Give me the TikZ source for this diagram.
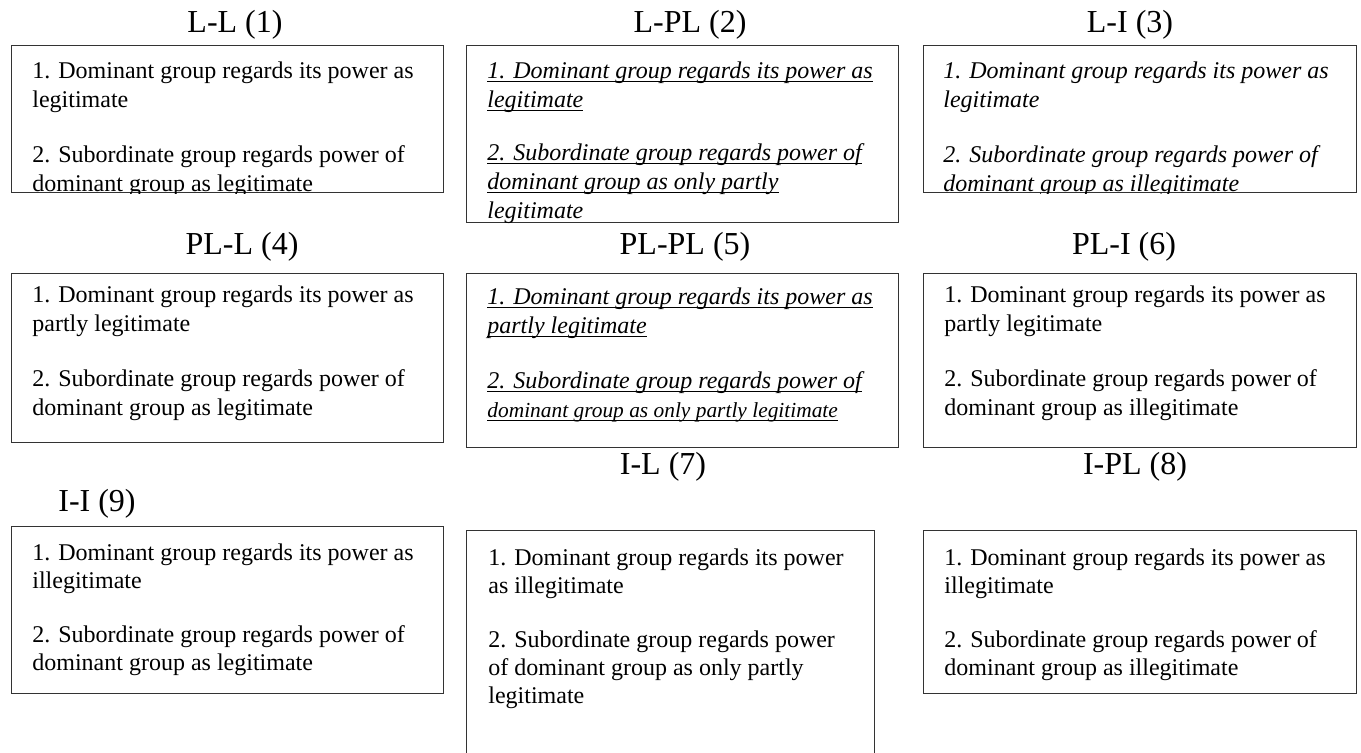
\documentclass[tikz,border=0pt]{standalone}
\usepackage{fontspec}
\setmainfont{Liberation Serif}
\usepackage{tikz}
\usetikzlibrary{positioning}
\newcommand{\ulbar}[1]{\leavevmode\setbox0=\hbox{#1}\rlap{\rule[-2.2pt]{\wd0}{0.8pt}}\box0}
\begin{document}
\begin{tikzpicture}[x=0.5pt,y=-0.5pt,
 card/.style={draw=black!80,line width=0.6pt,anchor=north west,inner sep=0pt,minimum width=216pt},
 txt/.style={inner sep=0pt,align=left,font=\fontsize{12}{14.5}\selectfont},
 txtit/.style={txt,font=\fontsize{12}{14.5}\selectfont\itshape},
 txtlow/.style={txt,font=\fontsize{12}{14}\selectfont},
 head/.style={anchor=base,font=\fontsize{16}{19}\selectfont}]
 \useasboundingbox (0,0) rectangle (1361,752);
 \clip (0,0) rectangle (1361,752);
 % headings
 \node[head] (h1) at (235,32) {L-L (1)};
 \node[head] (h2) at (690,32) {L-PL (2)};
 \node[head] (h3) at (1130,32) {L-I (3)};
 \node[head] (h4) at (242,254) {PL-L (4)};
 \node[head] (h5) at (685,254) {PL-PL (5)};
 \node[head] (h6) at (1124,254) {PL-I (6)};
 \node[head] (h7) at (663,474) {I-L (7)};
 \node[head] (h8) at (1135,474) {I-PL (8)};
 \node[head] (h9) at (97,511) {I-I (9)};
 % boxes
 \node[card,minimum height=73.5pt] (b1) at (11,45) {};
 \node[card,minimum height=88.5pt] (b2) at (466,45) {};
 \node[card,minimum height=73.5pt,minimum width=216.5pt] (b3) at (923,45) {};
 \node[card,minimum height=84.5pt] (b4) at (11,273) {};
 \node[card,minimum height=87pt] (b5) at (466,273) {};
 \node[card,minimum height=87pt,minimum width=216.5pt] (b6) at (923,273) {};
 \node[card,minimum height=120pt,minimum width=204pt] (b7) at (466,530) {};
 \node[card,minimum height=81.5pt,minimum width=216.5pt] (b8) at (923,530) {};
 \node[card,minimum height=83.5pt] (b9) at (11,526) {};
 % texts
 \begin{scope}
 \clip (b1.south west) rectangle (b1.north east);
 \node[txt,below right=8pt and 10.5pt of b1.north west] (t1) {1. Dominant group regards its power as\\ legitimate\\[13pt] 2. Subordinate group regards power of\\ dominant group as legitimate};
 \end{scope}
 \node[txtit,below right=8pt and 10.5pt of b2.north west] (t2) {\ulbar{1. Dominant group regards its power as}\\ \ulbar{legitimate}\\[12pt] \ulbar{2. Subordinate group regards power of}\\ \ulbar{dominant group as only partly}\\ legitimate};
 \begin{scope}
 \clip (b3.south west) rectangle (b3.north east);
 \node[txtit,below right=8pt and 10pt of b3.north west] (t3) {1. Dominant group regards its power as\\ legitimate\\[13pt] 2. Subordinate group regards power of\\ dominant group as illegitimate};
 \end{scope}
 \node[txt,below right=6pt and 10.5pt of b4.north west] (t4) {1. Dominant group regards its power as\\ partly legitimate\\[13pt] 2. Subordinate group regards power of\\ dominant group as legitimate};
 \node[txtit,below right=7pt and 10.5pt of b5.north west] (t5) {\ulbar{1. Dominant group regards its power as}\\ \ulbar{partly legitimate}\\[13pt] \ulbar{2. Subordinate group regards power of}\\ \fontsize{10.7}{14}\selectfont\ulbar{dominant group as only partly legitimate}};
 \node[txt,below right=6pt and 10.5pt of b6.north west] (t6) {1. Dominant group regards its power as\\ partly legitimate\\[13pt] 2. Subordinate group regards power of\\ dominant group as illegitimate};
 \node[txtlow,below right=9pt and 11pt of b7.north west] (t7) {1. Dominant group regards its power\\ as illegitimate\\[13pt] 2. Subordinate group regards power\\ of dominant group as only partly\\ legitimate};
 \node[txtlow,below right=9pt and 10.5pt of b8.north west] (t8) {1. Dominant group regards its power as\\ illegitimate\\[13pt] 2. Subordinate group regards power of\\ dominant group as illegitimate};
 \node[txtlow,below right=8.5pt and 10.5pt of b9.north west] (t9) {1. Dominant group regards its power as\\ illegitimate\\[13pt] 2. Subordinate group regards power of\\ dominant group as legitimate};
\end{tikzpicture}
\end{document}
